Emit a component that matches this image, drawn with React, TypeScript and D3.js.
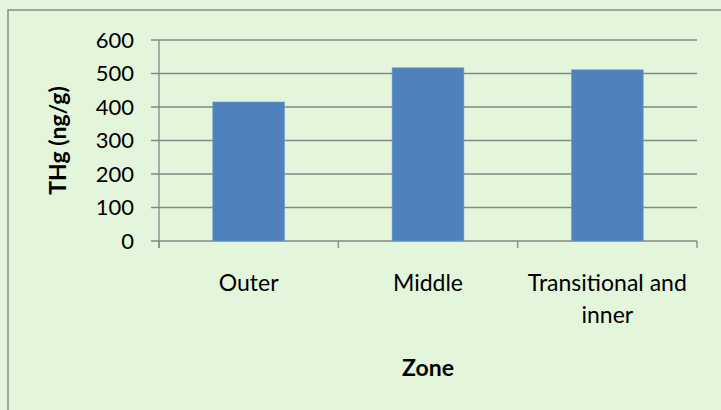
import React, { useRef, useEffect } from "react";
import * as d3 from "d3";

const zones = ["Outer", "Middle", "Transitional and inner"];
const zoneLines = [["Outer"], ["Middle"], ["Transitional and", "inner"]];
const thg = [415, 517, 511];
const yTicks = [0, 100, 200, 300, 400, 500, 600];

const W = 721;
const H = 410;
const FONT = "Lato, 'Open Sans', sans-serif";

const App: React.FC = () => {
    const ref = useRef<SVGSVGElement | null>(null);

    useEffect(() => {
        if (!ref.current) return;
        const svg = d3.select(ref.current);
        svg.selectAll("*").remove();

        const plot = { left: 159, right: 697, top: 40, bottom: 241 };

        // background + border
        svg.append("rect").attr("width", W).attr("height", H).attr("fill", "#e3f6dc");
        svg
            .append("rect")
            .attr("x", 8)
            .attr("y", 10)
            .attr("width", W + 20)
            .attr("height", H + 20)
            .attr("fill", "#e3f6dc")
            .attr("stroke", "#8c8c8c")
            .attr("stroke-width", 1.5);

        const x = d3
            .scaleBand()
            .domain(zones)
            .range([plot.left, plot.right])
            .paddingInner(0.6)
            .paddingOuter(0.3);
        const xEdges = d3
            .scaleBand()
            .domain(zones)
            .range([plot.left, plot.right]);

        const y = d3.scaleLinear().domain([0, 600]).range([plot.bottom, plot.top]);

        // gridlines
        svg
            .append("g")
            .selectAll("line")
            .data(yTicks)
            .enter()
            .append("line")
            .attr("x1", plot.left - 8)
            .attr("x2", plot.right)
            .attr("y1", d => y(d))
            .attr("y2", d => y(d))
            .attr("stroke", "#868686")
            .attr("stroke-width", 1.3);

        // bars
        svg
            .append("g")
            .selectAll("rect")
            .data(thg)
            .enter()
            .append("rect")
            .attr("x", (_, i) => x(zones[i])!)
            .attr("y", d => y(d))
            .attr("width", x.bandwidth())
            .attr("height", d => y(0) - y(d))
            .attr("fill", "#4f81bd")
            .attr("stroke", "#6f9ad0")
            .attr("stroke-width", 0.6);

        // y axis line
        svg
            .append("line")
            .attr("x1", plot.left)
            .attr("x2", plot.left)
            .attr("y1", plot.top)
            .attr("y2", plot.bottom + 7)
            .attr("stroke", "#868686")
            .attr("stroke-width", 1.3);

        // x axis ticks
        const edges = zones.map(z => xEdges(z)!).concat([plot.right]);
        svg
            .append("g")
            .selectAll("line")
            .data(edges)
            .enter()
            .append("line")
            .attr("x1", d => d)
            .attr("x2", d => d)
            .attr("y1", plot.bottom)
            .attr("y2", plot.bottom + 7)
            .attr("stroke", "#868686")
            .attr("stroke-width", 1.3);

        // y tick labels
        svg
            .append("g")
            .selectAll("text")
            .data(yTicks)
            .enter()
            .append("text")
            .attr("x", 134)
            .attr("y", d => y(d))
            .attr("dy", "0.36em")
            .attr("text-anchor", "end")
            .attr("font-family", FONT)
            .attr("font-size", 22)
            .attr("fill", "#000")
            .text(d => d);

        // x category labels
        const cat = svg.append("g");
        zoneLines.forEach((lines, i) => {
            const cx = xEdges(zones[i])! + xEdges.bandwidth() / 2;
            lines.forEach((ln, j) => {
                cat
                    .append("text")
                    .attr("x", cx)
                    .attr("y", 283 + j * 32)
                    .attr("dy", "0.36em")
                    .attr("text-anchor", "middle")
                    .attr("font-family", FONT)
                    .attr("font-size", 23)
                    .attr("fill", "#000")
                    .text(ln);
            });
        });

        // axis titles
        svg
            .append("text")
            .attr("x", (plot.left + plot.right) / 2)
            .attr("y", 368)
            .attr("dy", "0.36em")
            .attr("text-anchor", "middle")
            .attr("font-family", FONT)
            .attr("font-weight", "bold")
            .attr("font-size", 23)
            .text("Zone");

        svg
            .append("text")
            .attr("transform", `translate(58,${(plot.top + plot.bottom) / 2}) rotate(-90)`)
            .attr("dy", "0.36em")
            .attr("text-anchor", "middle")
            .attr("font-family", FONT)
            .attr("font-weight", "bold")
            .attr("font-size", 23)
            .text("THg (ng/g)");
    }, []);

    return (
        <svg
            ref={ref}
            width={W}
            height={H}
            style={{ position: "absolute", left: 0, top: 0, display: "block" }}
        />
    );
};

export default App;
